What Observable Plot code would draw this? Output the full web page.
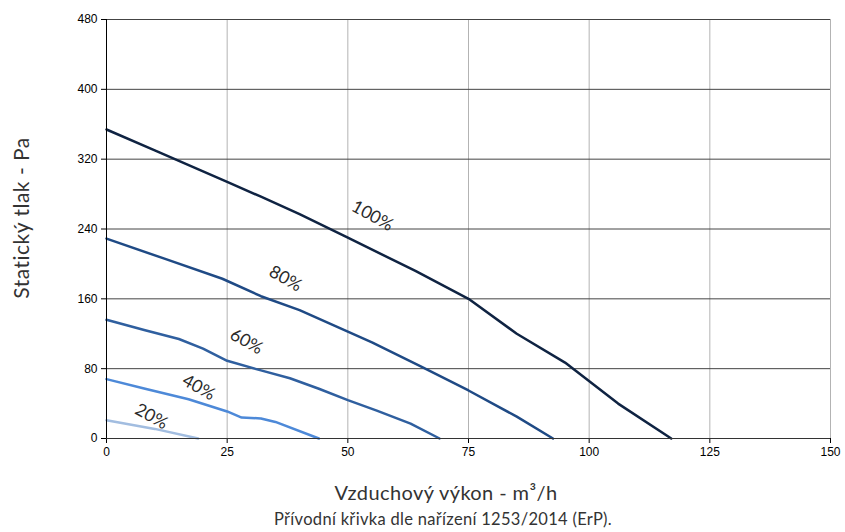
<!DOCTYPE html>
<html><head><meta charset="utf-8">
<script src="https://cdn.jsdelivr.net/npm/d3@7"></script>
<script src="https://cdn.jsdelivr.net/npm/@observablehq/plot@0.6"></script>
<style>
body{margin:0;background:#fff;}
#wrap{position:relative;width:845px;height:532px;font-family:Lato,"Open Sans",sans-serif;color:#333;overflow:hidden;font-weight:400;}
#chart{position:absolute;left:0;top:0;}
#ytitle{position:absolute;left:20px;top:218px;transform:translate(-50%,-50%) rotate(-90deg);font-size:21px;white-space:nowrap;letter-spacing:0.5px;}
#xtitle{position:absolute;left:446px;top:492px;transform:translate(-50%,-50%);font-size:20px;white-space:nowrap;letter-spacing:0.4px;}
#caption{position:absolute;left:443px;top:519px;transform:translate(-50%,-50%);font-size:16.5px;white-space:nowrap;letter-spacing:0.3px;}
</style></head>
<body>
<div id="wrap">
  <div id="chart"></div>
  <div id="ytitle">Statický tlak - Pa</div>
  <div id="xtitle">Vzduchový výkon - m³/h</div>
  <div id="caption">Přívodní křivka dle nařízení 1253/2014 (ErP).</div>
</div>
<script>
const xTicks = [0, 25, 50, 75, 100, 125, 150];
const yTicks = [0, 80, 160, 240, 320, 400, 480];

const seriesNames = ["100%", "80%", "60%", "40%", "20%"];
const seriesColors = ["#0f2342", "#1f4a85", "#2f5f9f", "#4d89d8", "#a2bde0"];

const flow100 = [0, 10, 25, 32, 40, 50, 64, 75, 85, 95, 106, 117];
const press100 = [354, 330, 294, 277, 257, 230, 192, 160, 120, 87, 40, 0];
const flow80 = [0, 12, 24, 32, 40, 55, 65, 75, 85, 92.5];
const press80 = [229, 206, 183, 163, 147, 110, 83, 55, 25, 0];
const flow60 = [0, 8, 15, 20, 25, 32, 38, 44, 50, 56, 63, 69];
const press60 = [136, 124, 114, 103, 89, 78, 69, 57, 44, 32, 17, 0];
const flow40 = [0, 8, 17, 25, 28, 32, 35, 44];
const press40 = [68, 57, 45, 31, 24, 23, 19, 0];
const flow20 = [0, 10, 19];
const press20 = [21, 11, 0];

const labelX = [55.1, 37.1, 29, 19.1, 9.3];
const labelY = [255, 183, 111, 58.4, 25.2];

const flows = [flow100, flow80, flow60, flow40, flow20];
const presses = [press100, press80, press60, press40, press20];
const rows = seriesNames.flatMap((s, i) => flows[i].map((x, j) => ({series: s, x, y: presses[i][j]})));
const labels = seriesNames.map((s, i) => ({series: s, x: labelX[i], y: labelY[i]}));

const chart = Plot.plot({
  width: 845,
  height: 470,
  marginLeft: 106,
  marginRight: 15,
  marginTop: 19,
  marginBottom: 32,
  style: {fontFamily: "'Liberation Sans', Arial, sans-serif", fontSize: "12px", color: "#000", background: "#fff"},
  x: {domain: [0, 150]},
  y: {domain: [0, 480]},
  color: {domain: seriesNames, range: seriesColors},
  marks: [
    Plot.ruleX(xTicks.slice(1), {stroke: "#b3b3b3", strokeWidth: 1, strokeOpacity: 1}),
    Plot.ruleY(yTicks.slice(1), {stroke: "#444", strokeWidth: 1, strokeOpacity: 1}),
    Plot.axisX({ticks: xTicks, tickSize: 5, tickPadding: 4, label: null, fontSize: 12, tickFormat: d => d}),
    Plot.axisY({ticks: yTicks, tickSize: 5, tickPadding: 4, label: null, fontSize: 12, tickFormat: d => d}),
    Plot.line(rows, {x: "x", y: "y", z: "series", stroke: "series", strokeWidth: 2.5, curve: "linear", strokeLinejoin: "round"}),
    Plot.ruleY([0], {stroke: "#333", strokeWidth: 1}),
    Plot.ruleX([0], {stroke: "#000", strokeWidth: 1}),
    Plot.text(labels, {x: "x", y: "y", text: "series", rotate: 29, fontSize: 17.5, fill: "#2a2a2a",
      fontFamily: "Lato, 'Open Sans', sans-serif", letterSpacing: 0.5})
  ]
});
document.getElementById("chart").append(chart);
</script>
</body></html>
